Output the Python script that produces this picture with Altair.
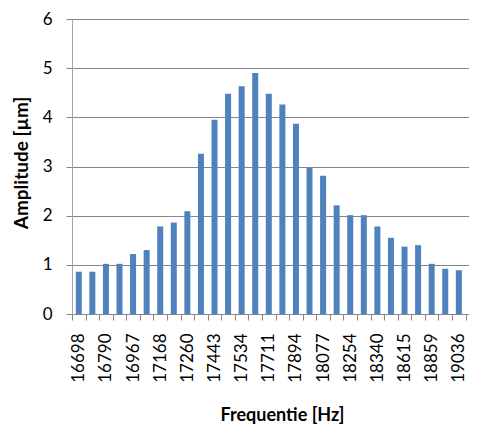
import altair as alt
import pandas as pd

# Tick labels (every other bar is labelled)
freq_labels = ["16698", "16790", "16967", "17168", "17260", "17443", "17534", "17711",
               "17894", "18077", "18254", "18340", "18615", "18859", "19036"]
# Amplitude per bar [µm]
amplitude = [0.86, 0.86, 1.02, 1.02, 1.22, 1.30, 1.78, 1.86, 2.09, 3.26,
             3.95, 4.48, 4.63, 4.90, 4.48, 4.26, 3.87, 2.98, 2.81, 2.21,
             2.01, 2.01, 1.78, 1.55, 1.37, 1.40, 1.02, 0.92, 0.89, 0.78]

df = pd.DataFrame({
    "idx": list(range(len(amplitude))),
    "amp": amplitude,
})

FONT = "Lato"
GRAY = "#868686"
LIGHT = "#A6A6A6"
W = 397
H = 295
XMAX = 29.25
HALF_STEP = W / XMAX / 2

label_js = "[" + ",".join("'" + s + "'" for s in freq_labels) + "]"
label_expr = f"datum.value % 2 == 0 ? {label_js}[datum.value / 2] : ''"

bars = alt.Chart(df).transform_calculate(
    pos="datum.idx + 0.5"
).mark_bar(color="#4F81BD", size=6, clip=True).encode(
    x=alt.X("pos:Q",
            scale=alt.Scale(domain=[0, XMAX], nice=False, zero=False, padding=0),
            axis=alt.Axis(
                values=list(range(0, 30)),
                labelExpr=label_expr,
                labelOffset=HALF_STEP,
                labelAngle=270,
                labelAlign="right",
                labelBaseline="middle",
                labelOverlap=False,
                labelPadding=13,
                labelFont=FONT,
                labelFontSize=17,
                labelColor="#000000",
                tickColor=GRAY,
                tickSize=6,
                domainColor=GRAY,
                grid=False,
                title="Frequentie [Hz]",
                titleFont=FONT,
                titleFontSize=18,
                titleFontWeight="bold",
                titleColor="#000000",
                titleX=210,
                titleY=101,
                titleBaseline="middle",
                titleAlign="center",
            )),
    y=alt.Y("amp:Q",
            scale=alt.Scale(domain=[0, 6], nice=False),
            axis=alt.Axis(
                values=[0, 1, 2, 3, 4, 5, 6],
                labelFont=FONT,
                labelFontSize=17,
                labelColor="#000000",
                labelPadding=14,
                tickColor=GRAY,
                tickSize=6,
                domainColor=LIGHT,
                gridColor=GRAY,
                gridOpacity=1,
                title="Amplitude [µm]",
                titleFont=FONT,
                titleFontSize=19,
                titleFontWeight="bold",
                titleColor="#000000",
                titleX=-51,
                titleY=143.5,
                titleBaseline="middle",
                titleAlign="center",
                titleAngle=270,
            )),
)

chart = bars.properties(
    width=W,
    height=H,
    autosize=alt.AutoSizeParams(type="none"),
    padding={"left": 64, "top": 11, "right": 0, "bottom": 111},
).configure_view(stroke=None).configure(background="white")

chart.save("out.html", embed_options={"renderer": "svg", "actions": False})
